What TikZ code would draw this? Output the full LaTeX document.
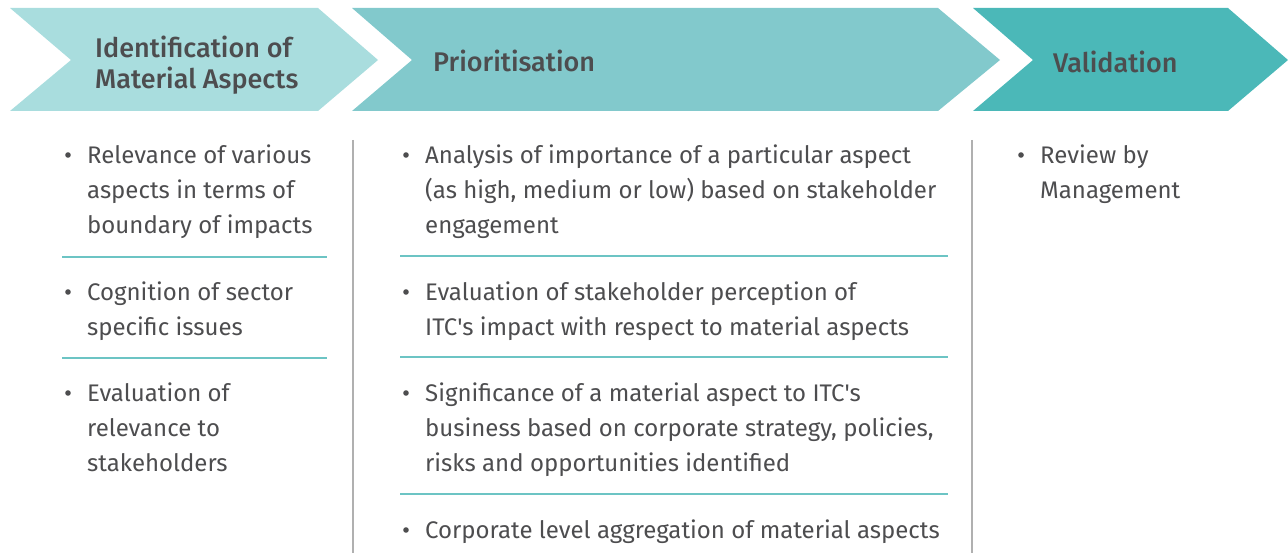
\documentclass[tikz,border=0pt]{standalone}
\usepackage{fontspec}
\setmainfont{Fira Sans}[Ligatures=TeXOff]
\newfontfamily\headfont{Fira Sans Medium}
\definecolor{cone}{HTML}{A9DDDE}
\definecolor{ctwo}{HTML}{82C9CC}
\definecolor{cthree}{HTML}{4BB8B8}
\definecolor{txt}{HTML}{4D4D4F}
\definecolor{sep}{HTML}{6CC4C4}
\definecolor{vline}{HTML}{B0B0B0}
\begin{document}
\begin{tikzpicture}[x=1pt,y=-1pt,
  item/.style={anchor=north west, inner sep=0pt, align=left, font=\fontsize{24}{35}\selectfont, text=txt},
  head/.style={inner sep=0pt, align=left, font=\headfont\fontsize{27}{31}\selectfont, text=txt},
  sepline/.style={draw=sep, line width=1.5pt},
  colline/.style={draw=vline, line width=1.2pt},
  bul/.style={fill=txt}]
\useasboundingbox (0,0) rectangle (1288,553);
% chevrons
\fill[cone] (10,8) -- (318,8) -- (378,60) -- (318,111) -- (10,111) -- (71,60) -- cycle;
\fill[ctwo] (352,8) -- (938,8) -- (1000,60) -- (938,111) -- (352,111) -- (412,60) -- cycle;
\fill[cthree] (973,8) -- (1228,8) -- (1288,60) -- (1228,111) -- (973,111) -- (1033,60) -- cycle;
% headings
\node[head, anchor=north west] (h1) at (95,35.3) {\strut Identification of\\Material Aspects};
\node[head, anchor=base west] (h2) at (433,72) {Prioritisation};
\node[head, anchor=base west] (h3) at (1053,73) {Validation};
% column rules
\coordinate (v1t) at (353,140); \coordinate (v1b) at (353,553);
\coordinate (v2t) at (972,140); \coordinate (v2b) at (972,553);
\draw[colline] (v1t) -- (v1b);
\draw[colline] (v2t) -- (v2b);
% separators
\coordinate (s1a) at (62,257); \coordinate (s1b) at (327,257);
\coordinate (s2a) at (62,358); \coordinate (s2b) at (327,358);
\coordinate (s3a) at (400,256); \coordinate (s3b) at (948,256);
\coordinate (s4a) at (400,357); \coordinate (s4b) at (948,357);
\coordinate (s5a) at (400,494); \coordinate (s5b) at (948,494);
\draw[sepline] (s1a) -- (s1b);
\draw[sepline] (s2a) -- (s2b);
\draw[sepline] (s3a) -- (s3b);
\draw[sepline] (s4a) -- (s4b);
\draw[sepline] (s5a) -- (s5b);
% column 1
\node[item] (a1) at (87,138.5) {\strut Relevance of various\\aspects in terms of\\boundary of impacts};
\node[item] (a2) at (87,275.5) {\strut Cognition of sector\\specific issues};
\node[item] (a3) at (87,376.5) {\strut Evaluation of\\relevance to\\stakeholders};
% column 2
\node[item] (b1) at (425,138.5) {\strut Analysis of importance of a particular aspect\\(as high, medium or low) based on stakeholder\\engagement};
\node[item] (b2) at (425,275.5) {\strut Evaluation of stakeholder perception of\\ITC's impact with respect to material aspects};
\node[item] (b3) at (425,376.5) {\strut Significance of a material aspect to ITC's\\business based on corporate strategy, policies,\\risks and opportunities identified};
\node[item] (b4) at (425,513.5) {\strut Corporate level aggregation of material aspects};
% column 3
\node[item] (c1) at (1040,138.5) {\strut Review by\\Management};
% bullets
\foreach \n in {a1,a2,a3,b1,b2,b3,b4,c1}
  \fill[bul] ([shift={(-19pt,-16.5pt)}]\n.north west) circle (2.8pt);
\end{tikzpicture}
\end{document}
